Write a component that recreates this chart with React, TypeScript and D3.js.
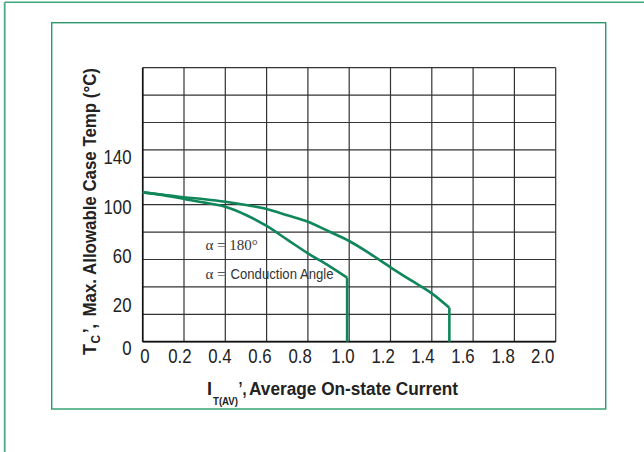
import React from "react";
import * as d3 from "d3";

// ---- data ----
const xGridValues = [0, 0.2, 0.4, 0.6, 0.8, 1.0, 1.2, 1.4, 1.6, 1.8, 2.0];
const yGridValues = [0, 20, 40, 60, 80, 100, 120, 140, 160, 180, 200];
const xTickLabels = ["0", "0.2", "0.4", "0.6", "0.8", "1.0", "1.2", "1.4", "1.6", "1.8", "2.0"];
const xLabelAt = [0.011, 0.18, 0.374, 0.568, 0.762, 0.97, 1.164, 1.357, 1.551, 1.745, 1.937];
const yTickLabels = ["0", "20", "60", "100", "140"];
const yLabelAt = [-4, 27, 63, 99, 135];

const innerX = [0, 0.1, 0.2, 0.3, 0.4, 0.5, 0.6, 0.7, 0.8, 0.9, 0.99];
const innerY = [109, 107, 104.2, 101.5, 98.5, 92.5, 84.5, 74.5, 64.5, 55.5, 46.7];
const outerX = [0, 0.1, 0.2, 0.3, 0.4, 0.5, 0.6, 0.7, 0.8, 0.9, 1.0, 1.1, 1.2, 1.3, 1.4, 1.485];
const outerY = [109, 107.3, 105.4, 104, 102.2, 99.8, 96.9, 92.3, 87.6, 80.6, 73.5, 64.3, 54.3, 44.7, 35.3, 24.8];

const GREEN = "#10875a";
const SANS = "'Liberation Sans', Arial, sans-serif";
const SERIF = "'Liberation Serif', 'DejaVu Serif', serif";
const SQ = 0.8; // horizontal squeeze to imitate a condensed face

export default function App() {
  const x = d3.scaleLinear().domain([0, 2]).range([142.7, 555.7]);
  const y = d3.scaleLinear().domain([0, 200]).range([341.7, 67.7]);
  const line = d3
    .line<[number, number]>()
    .x((d) => x(d[0]))
    .y((d) => y(d[1]))
    .curve(d3.curveMonotoneX);

  const series = [
    innerX.map((v, i) => [v, innerY[i]] as [number, number]),
    outerX.map((v, i) => [v, outerY[i]] as [number, number]),
  ];

  return (
    <svg
      width={644}
      height={452}
      style={{ position: "absolute", left: 0, top: 0, background: "#fff" }}
    >
      {/* outer page borders */}
      <line x1={4.7} y1={2.3} x2={644} y2={2.3} stroke="#3fa77d" strokeWidth={1.6} />
      <line x1={4.7} y1={2.3} x2={4.7} y2={452} stroke="#4aab84" strokeWidth={1.8} />
      {/* inner box */}
      <rect x={51.7} y={22.7} width={554} height={386.3} fill="none" stroke="#2a9a6c" strokeWidth={1.4} />

      {/* grid */}
      {xGridValues.map((v) => (
        <line key={"gx" + v} x1={x(v)} x2={x(v)} y1={y(200)} y2={y(0)} stroke="#333" strokeWidth={1.2} />
      ))}
      {yGridValues.map((v) => (
        <line key={"gy" + v} x1={x(0)} x2={x(2)} y1={y(v)} y2={y(v)} stroke="#333" strokeWidth={1.2} />
      ))}
      <line x1={x(0)} x2={x(2)} y1={y(0)} y2={y(0)} stroke="#111" strokeWidth={1.8} />
      <line x1={x(0)} x2={x(0)} y1={y(200)} y2={y(0)} stroke="#111" strokeWidth={1.6} />

      {/* curves */}
      {series.map((s, i) => {
        const last = s[s.length - 1];
        return (
          <g key={"s" + i}>
            <path d={line(s) || ""} fill="none" stroke={GREEN} strokeWidth={2.6} />
            <line x1={x(last[0])} x2={x(last[0])} y1={y(last[1])} y2={y(0)} stroke={GREEN} strokeWidth={2.6} />
          </g>
        );
      })}

      {/* annotations */}
      <text x={205.5} y={250} fontFamily={SERIF} fontSize={15} fill="#333">
        α = 180°
      </text>
      <text x={205.5} y={279} fontFamily={SERIF} fontSize={15} fill="#333">
        α =
      </text>
      <text x={230.5} y={279} fontFamily={SANS} fontSize={15.5} fill="#333" textLength={103} lengthAdjust="spacingAndGlyphs">
        Conduction Angle
      </text>

      {/* x tick labels */}
      {xTickLabels.map((t, i) => (
        <g key={"xl" + i} transform={`translate(${x(xLabelAt[i])},362.5) scale(${SQ},1)`}>
          <text textAnchor="middle" fontFamily={SANS} fontSize={21} fill="#222">
            {t}
          </text>
        </g>
      ))}
      {/* y tick labels */}
      {yTickLabels.map((t, i) => (
        <g key={"yl" + i} transform={`translate(131.5,${y(yLabelAt[i]) + 7.5}) scale(${SQ},1)`}>
          <text textAnchor="end" fontFamily={SANS} fontSize={21} fill="#222">
            {t}
          </text>
        </g>
      ))}

      {/* x title */}
      <g fontFamily={SANS} fontWeight="bold" fill="#222">
        <text x={207} y={395} fontSize={18}>I</text>
        <text x={213} y={405} fontSize={11} textLength={25} lengthAdjust="spacingAndGlyphs">T(AV)</text>
        <text x={238.5} y={395} fontSize={18} textLength={8} lengthAdjust="spacingAndGlyphs">’,</text>
        <text x={249} y={395} fontSize={18} textLength={209} lengthAdjust="spacingAndGlyphs">
          Average On-state Current
        </text>
      </g>

      {/* y title */}
      <g fontFamily={SANS} fontWeight="bold" fill="#222" transform="translate(96,0)">
        <text transform="translate(0,355) rotate(-90)" fontSize={18} textLength={11} lengthAdjust="spacingAndGlyphs">T</text>
        <text transform="translate(4,343.5) rotate(-90)" fontSize={12} textLength={8.5} lengthAdjust="spacingAndGlyphs">C</text>
        <text transform="translate(0,333) rotate(-90)" fontSize={18} textLength={9} lengthAdjust="spacingAndGlyphs">’,</text>
        <text transform="translate(0,316.5) rotate(-90)" fontSize={18} textLength={248.5} lengthAdjust="spacingAndGlyphs">
          Max. Allowable Case Temp (°C)
        </text>
      </g>
    </svg>
  );
}
